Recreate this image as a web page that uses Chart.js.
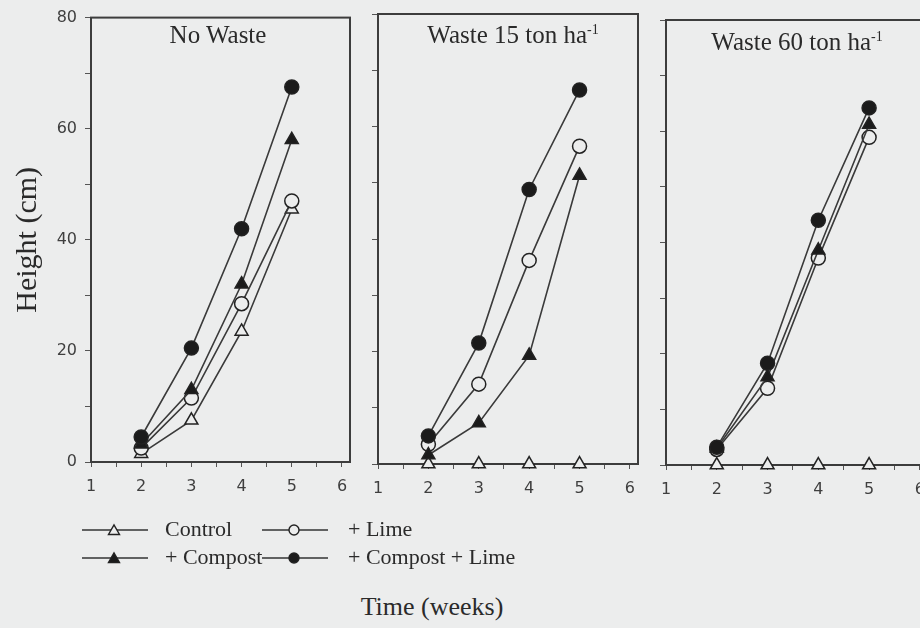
<!DOCTYPE html>
<html>
<head>
<meta charset="utf-8">
<title>Height vs time</title>
<script src="https://cdn.jsdelivr.net/npm/chart.js"></script>
<style>
  body { margin: 0; width: 920px; height: 628px; overflow: hidden; position: relative;
         background: #eceded; font-family: 'Liberation Serif', 'Times New Roman', serif; color: #2a2a2a; }
  canvas { position: absolute; top: 0; }
  .ptitle { position: absolute; font-size: 25px; transform: translateX(-50%); white-space: nowrap; line-height: 1; }
  .ptitle sup { font-size: 14px; vertical-align: 9px; line-height: 0; }
  .leg { position: absolute; font-size: 22px; line-height: 1; white-space: nowrap; }
  .legsvg { position: absolute; }
  #xtitle { position: absolute; left: 432px; top: 592px; font-size: 26px; transform: translateX(-50%); white-space: nowrap; }
</style>
</head>
<body>
<canvas id="p1" width="362" height="520" style="left:0px"></canvas>
<canvas id="p2" width="292" height="520" style="left:358px"></canvas>
<canvas id="p3" width="294" height="520" style="left:646px"></canvas>

<div class="ptitle" style="left:218px; top:22px">No Waste</div>
<div class="ptitle" style="left:513px; top:22px">Waste 15 ton ha<sup>-1</sup></div>
<div class="ptitle" style="left:797px; top:29px">Waste 60 ton ha<sup>-1</sup></div>

<div id="legend"></div>
<div id="xtitle">Time (weeks)</div>

<script>
// weeks on the x axis
const weeks = [2, 3, 4, 5];
const xTicks = [1, 2, 3, 4, 5, 6];
const yTicks = [0, 10, 20, 30, 40, 50, 60, 70, 80];
const seriesNames = ['Control', '+ Lime', '+ Compost', '+ Compost + Lime'];

// No Waste
const noWasteControl = [1.5, 7.5, 23.5, 45.5];
const noWasteLime = [2.5, 11.5, 28.5, 47];
const noWasteCompost = [3.2, 13, 32, 58];
const noWasteCompostLime = [4.5, 20.5, 42, 67.5];

// Waste 15 ton/ha
const waste15Control = [0, 0, 0, 0];
const waste15Lime = [3.5, 14.2, 36.2, 56.5];
const waste15Compost = [1.6, 7.3, 19.3, 51.3];
const waste15CompostLime = [5, 21.5, 48.8, 66.5];

// Waste 60 ton/ha
const waste60Control = [0, 0, 0, 0];
const waste60Lime = [2.8, 13.8, 37.2, 58.9];
const waste60Compost = [3, 15.8, 38.6, 61.2];
const waste60CompostLime = [3.2, 18.3, 44, 64.2];

const BG = '#eceded';

const styles = [
  { pointStyle: 'triangle', fill: BG, radius: 7.5 },
  { pointStyle: 'circle', fill: BG, radius: 7 },
  { pointStyle: 'triangle', fill: '#1b1b1b', radius: 7.5 },
  { pointStyle: 'circle', fill: '#1b1b1b', radius: 7 }
];

function series(values, i) {
  return {
    label: seriesNames[i],
    data: weeks.map((w, k) => ({ x: w, y: values[k] })),
    borderColor: '#3a3a3a',
    borderWidth: 1.6,
    pointStyle: styles[i].pointStyle,
    pointRadius: styles[i].radius,
    pointBackgroundColor: styles[i].fill,
    pointBorderColor: '#222',
    pointBorderWidth: 1.5,
    clip: false,
    order: 4 - i
  };
}

// box round the plot area
const framePlugin = {
  id: 'frame',
  beforeDatasetsDraw(chart) {
    const { ctx, chartArea: a } = chart;
    ctx.save();
    ctx.strokeStyle = '#3d3d3d';
    ctx.lineWidth = 2;
    ctx.strokeRect(a.left, a.top, a.right - a.left, a.bottom - a.top);
    ctx.restore();
  }
};

function makePanel(id, data, o) {
  const h = 520;
  new Chart(document.getElementById(id), {
    type: 'line',
    data: { datasets: data.map(series) },
    plugins: [framePlugin],
    options: {
      responsive: false,
      animation: false,
      devicePixelRatio: 1,
      layout: { padding: { top: o.top, right: 12, left: 0, bottom: 0 } },
      plugins: { legend: { display: false }, tooltip: { enabled: false } },
      scales: {
        x: {
          type: 'linear',
          min: 1,
          max: 6.16,
          afterBuildTicks: s => {
            const t = [];
            xTicks.forEach((v, i) => {
              t.push({ value: v });
              if (i < xTicks.length - 1) t.push({ value: v + 0.5 });
            });
            s.ticks = t;
          },
          afterFit: s => { s.height = h - o.bottom; },
          border: { display: true, color: '#3d3d3d', width: 2 },
          grid: { drawOnChartArea: false, drawTicks: true, tickLength: 5, color: '#555' },
          ticks: {
            autoSkip: false,
            maxRotation: 0,
            padding: 10,
            color: '#3f3f3f',
            font: { family: 'DejaVu Sans', size: 16 },
            callback: v => Number.isInteger(v) ? String(v) : ''
          }
        },
        y: {
          type: 'linear',
          min: 0,
          max: 80,
          afterBuildTicks: s => { s.ticks = yTicks.map(v => ({ value: v })); },
          afterFit: s => { s.width = o.yWidth; },
          border: { display: true, color: '#3d3d3d', width: 2 },
          grid: { drawOnChartArea: false, drawTicks: true, tickLength: 6, color: '#555' },
          ticks: {
            display: o.yLabels,
            padding: 8,
            color: '#3f3f3f',
            font: { family: 'DejaVu Sans', size: 16 },
            callback: v => v % 20 === 0 ? String(v) : ''
          },
          title: {
            display: o.yLabels,
            text: 'Height (cm)',
            color: '#2a2a2a',
            padding: { top: 10, bottom: 0 },
            font: { family: 'Liberation Serif', size: 30 }
          }
        }
      }
    }
  });
}

makePanel('p1', [noWasteControl, noWasteLime, noWasteCompost, noWasteCompostLime],
  { top: 14, bottom: 462, yWidth: 91, yLabels: true });
makePanel('p2', [waste15Control, waste15Lime, waste15Compost, waste15CompostLime],
  { top: 14, bottom: 464, yWidth: 20, yLabels: false });
makePanel('p3', [waste60Control, waste60Lime, waste60Compost, waste60CompostLime],
  { top: 20, bottom: 465, yWidth: 20, yLabels: false });

// legend: two rows, line + marker then text
const legendPos = [
  { lx: 82, tx: 165, y: 530 },
  { lx: 262, tx: 348, y: 530 },
  { lx: 82, tx: 165, y: 558 },
  { lx: 262, tx: 348, y: 558 }
];
const legendEl = document.getElementById('legend');
seriesNames.forEach((name, i) => {
  const p = legendPos[i];
  const st = styles[i];
  const cx = 32;
  let mark;
  if (st.pointStyle === 'circle') {
    mark = `<circle cx="${cx}" cy="8" r="5" fill="${st.fill}" stroke="#222" stroke-width="1.4"/>`;
  } else {
    mark = `<polygon points="${cx - 5.5},12.5 ${cx + 5.5},12.5 ${cx},3" fill="${st.fill}" stroke="#222" stroke-width="1.4"/>`;
  }
  legendEl.insertAdjacentHTML('beforeend',
    `<svg class="legsvg" width="66" height="16" style="left:${p.lx}px; top:${p.y - 8}px">` +
    `<line x1="0" y1="8" x2="66" y2="8" stroke="#333" stroke-width="1.6"/>${mark}</svg>` +
    `<div class="leg" style="left:${p.tx}px; top:${p.y - 12}px">${name}</div>`);
});
</script>
</body>
</html>
